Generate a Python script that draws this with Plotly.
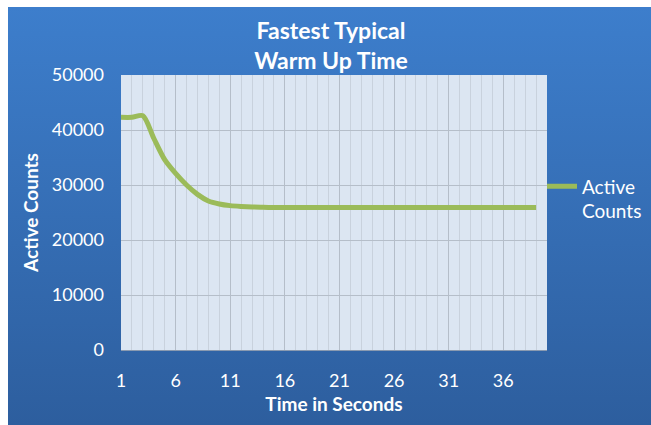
import base64
import plotly.graph_objects as go

# ---- data ----
seconds = list(range(1, 40))
active_counts = [42300, 42300, 42600, 38500, 34600, 32100, 30000, 28300, 27100, 26550,
                 26250, 26100, 26000, 25950] + [25900] * 25
x_tick_vals = [1, 6, 11, 16, 21, 26, 31, 36]
x_tick_text = [str(v) for v in x_tick_vals]
y_tick_vals = [0, 10000, 20000, 30000, 40000, 50000]

W, H = 651, 425
L, R, T, B = 121, 104, 75, 75
pw, ph = W - L - R, H - T - B

def px_to_paper_x(px):
    return (px - L) / pw

def px_to_paper_y(py):
    return (H - B - py) / ph

svg = ('<svg xmlns="http://www.w3.org/2000/svg" width="100" height="100" preserveAspectRatio="none">'
       '<defs><linearGradient id="g" x1="0" y1="0" x2="0" y2="1">'
       '<stop offset="0" stop-color="#3D7ECC"/><stop offset="1" stop-color="#2D5E9E"/>'
       '</linearGradient></defs><rect width="100" height="100" fill="url(#g)"/></svg>')
src = "data:image/svg+xml;base64," + base64.b64encode(svg.encode()).decode()

font = "Lato, 'Open Sans', sans-serif"

fig = go.Figure()
fig.add_trace(go.Scatter(
    x=seconds, y=active_counts, mode="lines", name="Active<br>Counts",
    line=dict(color="#9BBB59", width=5, shape="spline", smoothing=0.8),
))

bx0, by0 = 8, 7
fig.add_layout_image(dict(
    source=src, xref="paper", yref="paper",
    x=px_to_paper_x(bx0), y=px_to_paper_y(by0),
    sizex=(W - bx0) / pw, sizey=(H - by0) / ph,
    xanchor="left", yanchor="top", sizing="stretch", layer="below",
))
fig.add_shape(type="rect", xref="paper", yref="paper", x0=0, x1=1, y0=0, y1=1,
              fillcolor="#DCE6F2", line=dict(width=0), layer="below")

fig.update_layout(
    width=W, height=H,
    margin=dict(l=L, r=R, t=T, b=B, autoexpand=False),
    paper_bgcolor="white", plot_bgcolor="rgba(0,0,0,0)",
    font=dict(family=font, color="white", size=18),
    title=dict(text="<b>Fastest Typical<br>Warm Up Time</b>", xref="container", x=331 / W,
               xanchor="center", yref="container", y=1 - 39 / H, yanchor="top",
               font=dict(size=23, color="white", family=font)),
    showlegend=True,
    legend=dict(xref="container", yref="container", x=542 / W, xanchor="left",
                y=1 - 199 / H, yanchor="middle", valign="top",
                bgcolor="rgba(0,0,0,0)", font=dict(size=19, color="white", family=font),
                itemwidth=30, tracegroupgap=0),
    xaxis=dict(
        range=[1, 40], tickmode="array", tickvals=x_tick_vals, ticktext=x_tick_text,
        showgrid=True, gridcolor="#B5BEC9", gridwidth=1,
        minor=dict(dtick=1, tick0=1, showgrid=True, gridcolor="#C9D2DD", gridwidth=1),
        showline=True, linecolor="#8A9AB0", linewidth=1,
        zeroline=False, ticks="", ticklabelstandoff=14,
        tickfont=dict(size=18, color="white"),
        title=dict(text="<b>Time in Seconds</b>", font=dict(size=19, color="white"), standoff=8),
    ),
    yaxis=dict(
        range=[0, 50000], tickvals=y_tick_vals, tickformat="d",
        showgrid=True, gridcolor="#B5BEC9", gridwidth=1,
        zeroline=False, ticks="", ticklabelstandoff=16,
        tickfont=dict(size=18, color="white"),
        title=dict(text="<b>Active Counts</b>", font=dict(size=19, color="white"), standoff=8),
    ),
)

fig.write_html("out.html", config={"displayModeBar": False},
               post_script="document.body.style.margin='0';document.body.style.overflow='hidden';")
